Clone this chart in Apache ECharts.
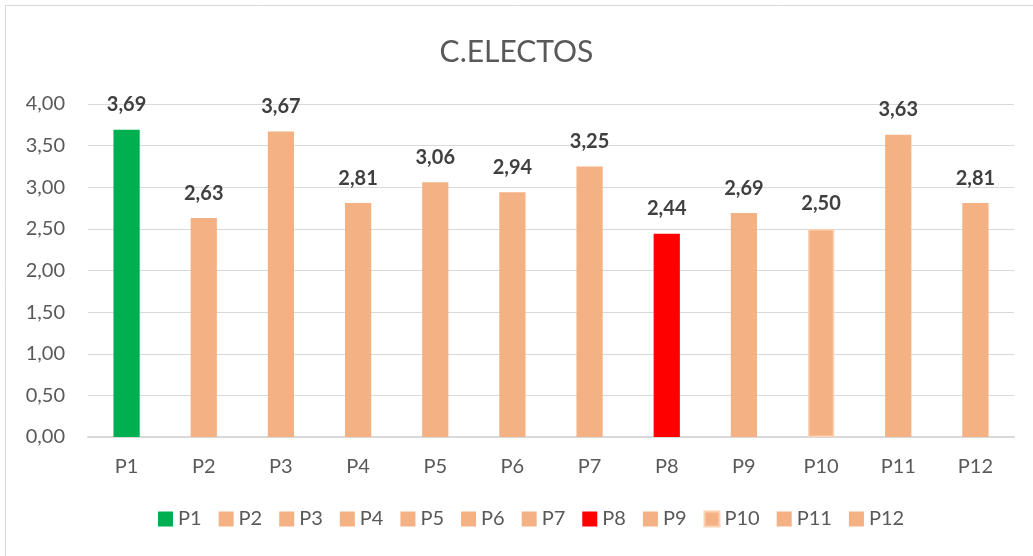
<!DOCTYPE html>
<html>
<head>
<meta charset="utf-8">
<script src="https://cdn.jsdelivr.net/npm/echarts@6/dist/echarts.min.js"></script>
<style>
  html, body { margin: 0; padding: 0; background: #fff; }
  #chart { width: 1033px; height: 556px; }
</style>
</head>
<body>
<div id="chart"></div>
<script>
// data
const categories = ['P1', 'P2', 'P3', 'P4', 'P5', 'P6', 'P7', 'P8', 'P9', 'P10', 'P11', 'P12']
const values = [3.69, 2.63, 3.67, 2.81, 3.06, 2.94, 3.25, 2.44, 2.69, 2.50, 3.63, 2.81]
const barColors = ['#00b050', '#f4b183', '#f4b183', '#f4b183', '#f4b183', '#f4b183',
  '#f4b183', '#ff0000', '#f4b183', '#f4b183', '#f4b183', '#f4b183']

const FONT = 'Lato'
const fmt = v => v.toFixed(2).replace('.', ',')

const chart = echarts.init(document.getElementById('chart'))

// one series per category so each gets its own legend entry
const series = categories.map((name, i) => ({
  name: name,
  type: 'bar',
  stack: 'all',
  barWidth: '34%',
  data: categories.map((c, j) => (j === i ? values[i] : null)),
  itemStyle: {
    color: barColors[i],
    borderColor: name === 'P10' ? '#fad3b5' : barColors[i],
    borderWidth: name === 'P10' ? 1.5 : 0
  },
  label: {
    show: true,
    position: 'top',
    distance: 15,
    formatter: p => fmt(p.value),
    fontFamily: FONT,
    fontSize: 20,
    fontWeight: 'bold',
    color: '#404040'
  }
}))

chart.setOption({
  animation: false,
  backgroundColor: '#fff',
  graphic: [{
    type: 'rect',
    shape: { x: 5.5, y: 5.5, width: 1040, height: 560 },
    style: { fill: null, stroke: '#d9d9d9', lineWidth: 1 },
    silent: true
  }],
  title: {
    text: 'C.ELECTOS',
    left: 'center',
    top: 32,
    textStyle: { fontFamily: FONT, fontSize: 30, fontWeight: 'normal', color: '#595959' }
  },
  legend: {
    bottom: 22,
    left: 153,
    icon: 'rect',
    itemWidth: 15,
    itemHeight: 15,
    itemGap: 17,
    textStyle: { fontFamily: FONT, fontSize: 20, color: '#595959' },
    data: categories
  },
  grid: { left: 88, right: 19, top: 104, bottom: 119 },
  xAxis: {
    type: 'category',
    data: categories,
    axisLine: { lineStyle: { color: '#d9d9d9', width: 2 } },
    axisTick: { show: false },
    axisLabel: { fontFamily: FONT, fontSize: 20, color: '#595959', margin: 20 }
  },
  yAxis: {
    type: 'value',
    min: 0,
    max: 4,
    interval: 0.5,
    axisLine: { show: false },
    axisTick: { show: false },
    splitLine: { lineStyle: { color: '#d9d9d9', width: 1 } },
    axisLabel: { fontFamily: FONT, fontSize: 20, color: '#595959', margin: 23, formatter: v => fmt(v) }
  },
  series: series
})
</script>
</body>
</html>
